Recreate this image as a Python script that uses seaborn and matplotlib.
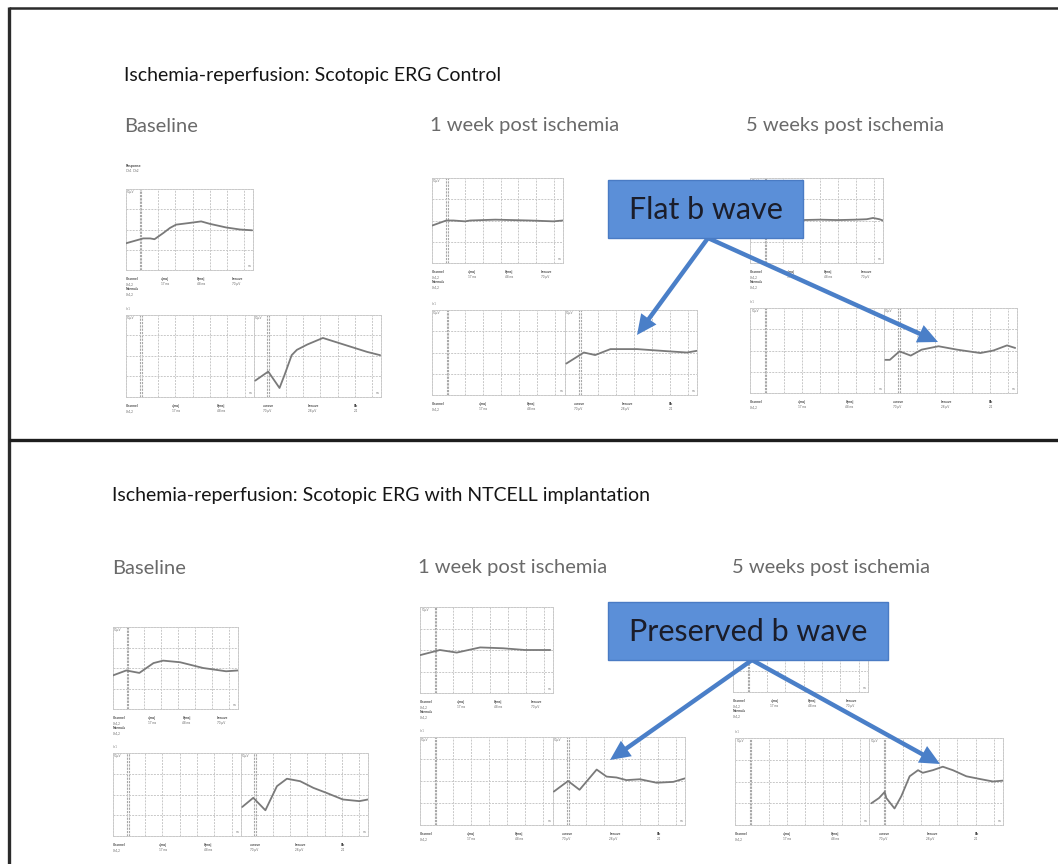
import numpy as np
import pandas as pd
import matplotlib
matplotlib.use("Agg")
import matplotlib.pyplot as plt
from matplotlib.patches import Rectangle, FancyArrowPatch, ArrowStyle
import seaborn as sns

sns.set_style("white")
plt.rcParams['font.family'] = ['Lato', 'DejaVu Sans']

W, H = 1058, 864

# ---------------- data (time in ms, amplitude in µV) ----------------
# Control group
cb_top_t = [-17, -7, 3, 11, 16, 26, 34, 41, 56, 70, 80, 99, 115, 129]
cb_top_v = [-68, -56, -44, -44, -48, -18, 8, 24, 32, 40, 28, 10, 0, -4]
cb_bot_t = [-15, 0, 13, 19, 27, 33, 45, 63, 87, 114, 129]
cb_bot_v = [-120, -76, -156, -90, 4, 30, 56, 88, 56, 20, 4]

c1_top_t = [-17, -1, 7, 20, 26, 54, 93, 119, 130]
c1_top_v = [-24, 0, 0, -4, 0, 4, 0, -4, 0]
c1_bot_t = [-15, 4.5, 17, 34, 63.5, 104, 119, 130]
c1_bot_v = [-52, 0, -12, 16, 16, 4, 0, 8]

c5_top_t = [-17, 0, 20, 40, 60, 80, 100, 112, 119, 126, 130]
c5_top_v = [2, 4, 4, 2, 4, 2, 4, 6, 12, 6, 0]
c5_bot_t = [-15, -10, 0.6, 13, 25, 43.6, 64, 89.6, 104, 119, 128]
c5_bot_v = [-44, -44, -4, -24, 4, 20, 4, -12, 0, 24, 12]

# NTCELL group
nb_top_t = [-17, -1.4, 14, 30.6, 42, 62, 89, 116, 130]
nb_top_v = [-36, -12, -24, 24, 36, 28, 0, -16, -12]
nb_bot_t = [-15, -2.3, 11.7, 25, 36.5, 51.8, 67, 82, 101, 120, 130]
nb_bot_v = [-60, -16, -76, 40, 76, 64, 32, 8, -24, -32, -24]

n1_top_t = [-17, 5, 23.6, 49.5, 75, 99, 127]
n1_top_v = [-24, 0, -12, 12, 8, 0, 0]
n1_bot_t = [-15.5, 0.3, 13, 32, 43, 54, 65, 80, 98.5, 117, 130]
n1_bot_v = [-48, 0, -40, 52, 20, 16, 4, 8, -8, -4, 12]

n5_top_t = [-17, 2, 20, 45, 75, 100, 130]
n5_top_v = [-20, 0, -8, 8, 4, 0, 0]
n5_bot_t = [-14.4, -6, 0.2, 2, 11, 18.4, 27.6, 36.8, 42, 53, 64, 75, 89.8, 104, 119, 130]
n5_bot_v = [-100, -76, -48, -76, -124, -68, 24, 52, 40, 52, 68, 52, 24, 12, 0, 4]

titles = ["Ischemia-reperfusion: Scotopic ERG Control",
          "Ischemia-reperfusion: Scotopic ERG with NTCELL implantation"]
timepoints = ["Baseline", "1 week post ischemia", "5 weeks post ischemia"]
callouts = ["Flat b wave", "Preserved b wave"]

top_hdr = ["Channel", "a[ms]", "b[ms]", "b-wave"]
bot_hdr = ["Channel", "a[ms]", "b[ms]", "a-wave", "b-wave", "Bb"]

fig = plt.figure(figsize=(W / 100, H / 100), dpi=100)
fig.patch.set_facecolor("white")


def rect(x0, y0, x1, y1):
    return [x0 / W, 1 - y1 / H, (x1 - x0) / W, (y1 - y0) / H]


GRID = "#c8c8c8"


def erg_axes(x0, y0, x1, y1):
    ax = fig.add_axes(rect(x0, y0, x1, y1))
    ax.set_xlim(-17, 130)
    ax.set_ylim(-200, 200)
    for x in range(20, 130, 20):
        ax.axvline(x, color=GRID, lw=0.7, ls=(0, (2, 1.2)), zorder=1)
    for x in (-0.9, 0.9):
        ax.axvline(x, color="#a8a8a8", lw=0.8, ls=(0, (2, 1)), zorder=1)
    for y in (-100, 0, 100):
        ax.axhline(y, color=GRID, lw=0.7, ls=(0, (2, 1.2)), zorder=1)
    for s in ax.spines.values():
        s.set_color(GRID)
        s.set_linewidth(0.7)
        s.set_linestyle((0, (2, 1.2)))
    ax.set_xticks([])
    ax.set_yticks([])
    ax.set_xlabel("")
    ax.set_ylabel("")
    ax.set_facecolor("white")
    ax.text(0.01, 0.985, "50µV", transform=ax.transAxes, fontsize=2.2,
            color="#777", va="top", ha="left")
    ax.text(0.99, 0.02, "ms", transform=ax.transAxes, fontsize=2.2,
            color="#777", va="bottom", ha="right")
    return ax


def trace(ax, t, v):
    df = pd.DataFrame({"t": t, "v": v})
    sns.lineplot(data=df, x="t", y="v", ax=ax, color="#7a7a7a", lw=1.3,
                 zorder=3, legend=False)
    ax.set_xlabel("")
    ax.set_ylabel("")


def tiny_table(x0, x1, y, headers, n_rows, normals):
    w = x1 - x0
    n = len(headers)
    for i, h in enumerate(headers):
        fx = x0 + w * i / (n - 0.4)
        fig.text(fx / W, 1 - y / H, h, fontsize=2.4, color="#444",
                 weight="bold", va="center")
        vals = ["Ch1,2", "17 ms", "48 ms", "70 µV", "28 µV", "2.1"]
        fig.text(fx / W, 1 - (y + 5) / H, vals[i % len(vals)], fontsize=2.2,
                 color="#666", va="center")
    if normals:
        fig.text(x0 / W, 1 - (y + 10) / H, "Normals", fontsize=2.4, color="#444",
                 weight="bold", va="center")
        fig.text(x0 / W, 1 - (y + 15) / H, "Ch1,2", fontsize=2.2, color="#666",
                 va="center")


def group(tops, bots, datasets):
    for (box, (t, v)) in zip(tops, datasets[0]):
        ax = erg_axes(*box)
        trace(ax, t, v)
        tiny_table(box[0], box[2], box[3] + 9, top_hdr, 1, True)
    for (box, (t, v)) in zip(bots, datasets[1]):
        x0, y0, x1, y1 = box
        xm = (x0 + x1) / 2
        erg_axes(x0, y0, xm, y1)
        ax = erg_axes(xm, y0, x1, y1)
        trace(ax, t, v)
        tiny_table(x0, x1, y1 + 9, bot_hdr, 1, False)
        fig.text(x0 / W, 1 - (y0 - 6) / H, "ch1", fontsize=2.2, color="#888",
                 va="center")


group(
    [(126, 189, 253, 270), (432, 178, 563, 263), (750, 178, 883, 263)],
    [(126, 315, 381, 397), (432, 310, 697, 395), (750, 308, 1017, 393)],
    [[(cb_top_t, cb_top_v), (c1_top_t, c1_top_v), (c5_top_t, c5_top_v)],
     [(cb_bot_t, cb_bot_v), (c1_bot_t, c1_bot_v), (c5_bot_t, c5_bot_v)]])

group(
    [(113, 627, 238, 709), (420, 607, 553, 693), (733, 607, 868, 692)],
    [(113, 753, 368, 836), (420, 737, 685, 825), (735, 738, 1003, 825)],
    [[(nb_top_t, nb_top_v), (n1_top_t, n1_top_v), (n5_top_t, n5_top_v)],
     [(nb_bot_t, nb_bot_v), (n1_bot_t, n1_bot_v), (n5_bot_t, n5_bot_v)]])

fig.text(126 / W, 1 - 166 / H, "Response", fontsize=2.6, color="#444",
         weight="bold", va="center")
fig.text(126 / W, 1 - 171 / H, "Ch1  Ch2", fontsize=2.2, color="#666",
         va="center")

# ---------------- overlay (text, frames, callouts) ----------------
ov = fig.add_axes([0, 0, 1, 1], zorder=10)
ov.set_xlim(0, W)
ov.set_ylim(H, 0)
ov.axis("off")
ov.patch.set_alpha(0)

# frames
ov.plot([9, W], [8, 8], color="#2b2b2b", lw=1.8, solid_capstyle="butt")
ov.plot([9, 9], [7, H], color="#2b2b2b", lw=2.4, solid_capstyle="butt")
ov.plot([9, W], [440, 440], color="#1e1e1e", lw=2.4, solid_capstyle="butt")

# headings
ov.text(124, 76, titles[0], fontsize=14, color="#151515", va="center",
        ha="left")
ov.text(112, 496, titles[1], fontsize=14, color="#151515", va="center",
        ha="left")
for x, lab in zip([124, 430, 746], timepoints):
    ov.text(x, 126, lab, fontsize=14.5, color="#6a6a6a", va="center", ha="left")
for x, lab in zip([112, 418, 732], timepoints):
    ov.text(x, 568, lab, fontsize=14.5, color="#6a6a6a", va="center", ha="left")

BOX_FC = "#5b8fd8"
BOX_EC = "#4a7bc4"
ARR = "#4a7fc8"


def callout(x0, y0, x1, y1, label, origin, tips):
    ov.add_patch(Rectangle((x0, y0), x1 - x0, y1 - y0, facecolor=BOX_FC,
                           edgecolor=BOX_EC, lw=1.0, zorder=5))
    ov.text((x0 + x1) / 2, (y0 + y1) / 2 + 1, label, fontsize=22,
            color="#1b1d2a", ha="center", va="center", zorder=6)
    for tip in tips:
        arr = FancyArrowPatch(origin, tip,
                              arrowstyle=ArrowStyle.Simple(head_length=0.9,
                                                           head_width=0.85,
                                                           tail_width=0.2),
                              mutation_scale=16, color=ARR, lw=0,
                              shrinkA=0, shrinkB=0, zorder=4)
        ov.add_patch(arr)


callout(608, 180, 803, 238, callouts[0], (708, 238), [(637, 335), (938, 342)])
callout(608, 602, 888, 660, callouts[1], (752, 660), [(610, 760), (940, 764)])

fig.savefig("out.png", dpi=100, facecolor="white")
